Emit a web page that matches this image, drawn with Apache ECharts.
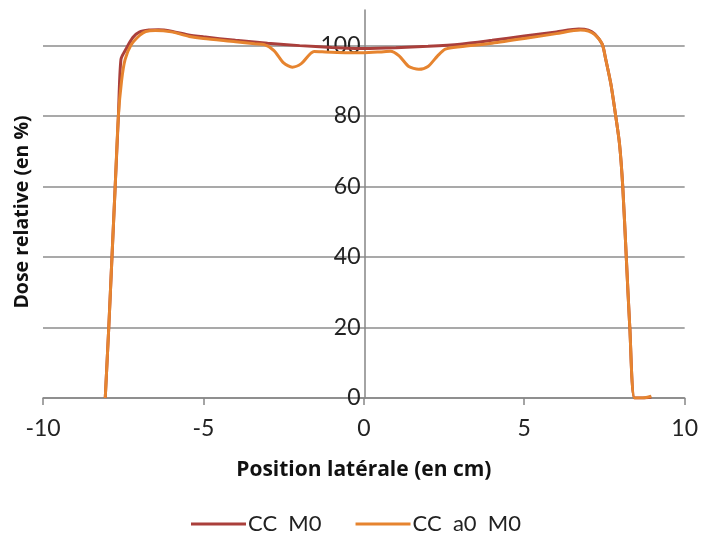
<!DOCTYPE html>
<html>
<head>
    <meta charset="utf-8">
    <title>Dose relative</title>
    <script src="https://cdn.jsdelivr.net/npm/echarts@6/dist/echarts.min.js"></script>
    <style>
        body, html { margin: 0; padding: 0; background: #fff; }
        #main { width: 701px; height: 533px; }
    </style>
</head>
<body>
    <div id="main"></div>
    <script>
        // CC M0
        const posCC = [-8.06, -7.95, -7.85, -7.75, -7.65, -7.57, -7.42, -7.2, -7.0, -6.7, -6.4, -6.0, -5.5, -5.0, -4.0, -3.0,
            -2.0, -1.0, 0, 1.0, 2.0, 3.0, 4.0, 5.0, 6.0, 6.7, 7.0, 7.2, 7.43, 7.54, 7.7, 7.85, 7.97, 8.07, 8.18, 8.29, 8.44, 8.7, 8.96];
        const doseCC = [0, 20, 40, 60, 80, 96, 98.8, 102.2, 103.7, 104.3, 104.4, 104.0, 103.0, 102.4, 101.4, 100.6,
            99.9, 99.4, 99.1, 99.3, 99.7, 100.3, 101.4, 102.6, 103.8, 104.6, 104.3, 103.2, 100.3, 96, 89, 80, 72, 60, 40, 20, 0, 0, 0.3];

        // CC a0 M0
        const posA0 = [-8.06, -7.95, -7.85, -7.75, -7.65, -7.55, -7.44, -7.26, -7.0, -6.8, -6.5, -6.0, -5.44, -5.0, -4.0, -3.4,
            -3.1, -2.8, -2.5, -2.23, -1.95, -1.55, -1.2, -0.5, 0, 0.5, 0.83, 1.1, 1.4, 1.71, 2.0, 2.3, 2.54,
            3.0, 4.0, 5.0, 6.0, 6.75, 7.0, 7.2, 7.43, 7.54, 7.7, 7.85, 7.97, 8.07, 8.18, 8.29, 8.44, 8.7, 8.96];
        const doseA0 = [0, 20, 40, 60, 80, 90, 96, 100, 102.7, 103.9, 104.2, 103.8, 102.5, 101.9, 101.0, 100.4,
            100.2, 98.5, 95.0, 93.8, 94.8, 98.2, 98.1, 97.9, 97.9, 98.1, 98.3, 97.0, 94.0, 93.2, 94.0, 97.0, 98.9,
            99.6, 100.6, 101.9, 103.3, 104.3, 104.0, 103.0, 100.3, 96, 89, 80, 72, 60, 40, 20, 0, 0, 0.5];

        const seriesNames = ['CC  M0', 'CC  a0  M0'];
        const colors = ['#AA3F3B', '#E6842F'];

        const font = 'Lato, "Open Sans", sans-serif';
        const titleFont = '"Open Sans", sans-serif';

        var myChart = echarts.init(document.getElementById('main'));

        const zip = (xs, ys) => xs.map((x, i) => [x, ys[i]]);

        // grid geometry, the value axis is drawn at x = 0
        const gridLeft = 43, gridRight = 15;
        const plotWidth = 701 - gridLeft - gridRight;

        const option = {
            backgroundColor: '#fff',
            animation: false,
            grid: { left: gridLeft, right: gridRight, top: 10, bottom: 135 },
            legend: {
                data: seriesNames,
                left: 186,
                top: 508,
                itemWidth: 55,
                itemHeight: 3,
                itemGap: 34,
                icon: 'rect',
                textStyle: { fontFamily: font, fontSize: 22, color: '#222', padding: [0, 0, 0, -3] }
            },
            // y axis title, kept on the left edge while the axis sits at x = 0
            graphic: [{
                type: 'text',
                x: 22,
                y: 212,
                rotation: Math.PI / 2,
                style: {
                    text: 'Dose relative (en %)',
                    fontFamily: titleFont,
                    fontSize: 19.5,
                    fontWeight: 'bold',
                    fill: '#111',
                    align: 'center',
                    verticalAlign: 'middle'
                }
            }],
            xAxis: {
                type: 'value',
                min: -10,
                max: 10,
                interval: 5,
                name: 'Position latérale (en cm)',
                nameLocation: 'middle',
                nameGap: 62,
                nameTextStyle: { fontFamily: titleFont, fontSize: 21, fontWeight: 'bold', color: '#111' },
                axisLine: { onZero: true, lineStyle: { color: '#868686', width: 1.5 } },
                axisTick: { show: true, length: 7, lineStyle: { color: '#868686', width: 1.5 } },
                axisLabel: { fontFamily: font, fontSize: 23, color: '#222', margin: 19 },
                splitLine: { show: false }
            },
            yAxis: {
                type: 'value',
                min: 0,
                max: 110,
                interval: 20,
                position: 'left',
                offset: -plotWidth / 2,
                axisLine: { show: true, onZero: false, lineStyle: { color: '#868686', width: 1.5 } },
                axisTick: { show: false },
                axisLabel: {
                    fontFamily: font, fontSize: 23, color: '#222', margin: 4,
                    formatter: v => (v > 100 ? '' : v)
                },
                splitLine: {
                    show: true,
                    lineStyle: {
                        color: ['#8c8c8c', '#8c8c8c', '#8c8c8c', '#8c8c8c', '#8c8c8c', '#8c8c8c', 'rgba(0,0,0,0)'],
                        width: 1.5
                    }
                }
            },
            series: [{
                name: seriesNames[0],
                type: 'line',
                data: zip(posCC, doseCC),
                smooth: 0.25,
                showSymbol: false,
                lineStyle: { color: colors[0], width: 3 },
                itemStyle: { color: colors[0] }
            }, {
                name: seriesNames[1],
                type: 'line',
                data: zip(posA0, doseA0),
                smooth: 0.25,
                showSymbol: false,
                lineStyle: { color: colors[1], width: 3 },
                itemStyle: { color: colors[1] }
            }]
        };

        myChart.setOption(option);
    </script>
</body>
</html>
